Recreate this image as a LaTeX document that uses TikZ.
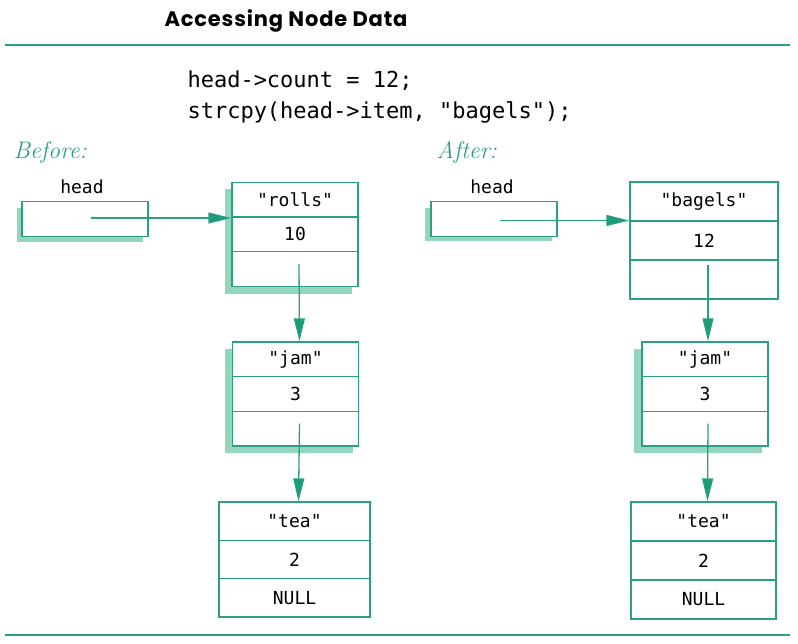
\documentclass[tikz,border=0pt]{standalone}
\usepackage{fontspec}
\setmonofont{DejaVu Sans Mono}
\newfontfamily\titlefont[LetterSpace=4]{Poppins}
\usepackage{tikz}
\usetikzlibrary{positioning,arrows.meta}
\definecolor{listteal}{RGB}{42,160,130}
\definecolor{tipteal}{RGB}{30,155,120}
\definecolor{shadeteal}{RGB}{148,213,190}

\begin{document}
\begin{tikzpicture}[x=1pt,y=-1pt,->,>={Triangle[length=23pt,width=10pt]}]
  \tikzstyle{cell}=[rectangle, draw=listteal, fill=white, line width=1.3pt,
    minimum width=126pt, minimum height=34.7pt, inner sep=0pt,
    font=\fontsize{18}{20}\selectfont\ttfamily]
  \tikzstyle{link}=[draw=listteal, line width=1.3pt, -{Triangle[length=23pt,width=11pt,fill=tipteal]}]
  \tikzstyle{shade}=[fill=shadeteal, draw=none]
  \tikzstyle{codeline}=[font=\fontsize{22}{26}\selectfont\ttfamily, anchor=base west]
  \useasboundingbox (0,0) rectangle (798,643);

  % title and code
  \node[font=\titlefont\bfseries\fontsize{21}{22}\selectfont, anchor=base west] (title) at (161,26) {Accessing Node Data};
  \draw[-, listteal, line width=1.5pt] (5,45) -- (790,45);
  \draw[-, listteal, line width=1.5pt] (5,635) -- (790,635);
  \node[codeline] (code1) at (184,87) {head->count = 12;};
  \node[codeline] (code2) at (184,118) {strcpy(head->item, "bagels");};

  % before
  \node[font=\itshape\fontsize{24}{26}\selectfont, text=listteal, anchor=west] (before) at (10,152) {Before:};
  \node[font=\fontsize{18}{20}\selectfont\ttfamily] (B_label) at (82,187) {head};
  \fill[shade] (17,208) rectangle (143,242);
  \node[cell] (B_head) at (85,219) {};
  \coordinate (B_ptr) at (91,218);

  \fill[shade] (225,189) rectangle (352,294);
  \node[cell] (B_rolls1) at (295,199.5) {"rolls"};
  \node[cell] (B_rolls2) at (295,234.2) {10};
  \node[cell] (B_rolls3) at (295,268.9) {};

  \fill[shade] (225,349) rectangle (353,453);
  \node[cell] (B_jam1) at (295.5,359.3) {"jam"};
  \node[cell] (B_jam2) at (295.5,394) {3};
  \node[cell] (B_jam3) at (295.5,428.7) {};

  \node[cell, minimum width=151pt, minimum height=38.3pt] (B_tea1) at (294.5,521.2) {"tea"};
  \node[cell, minimum width=151pt, minimum height=38.3pt] (B_tea2) at (294.5,559.5) {2};
  \node[cell, minimum width=151pt, minimum height=38.3pt] (B_tea3) at (294.5,597.8) {NULL};

  \draw[link] (B_ptr) -- (B_ptr -| B_rolls1.west);
  \draw[link] ([xshift=4pt,yshift=5pt]B_rolls3.center) -- ([xshift=4pt]B_jam1.north);
  \draw[link] ([xshift=4pt,yshift=5pt]B_jam3.center) -- ([xshift=4pt]B_tea1.north);

  % after
  \node[font=\itshape\fontsize{24}{26}\selectfont, text=listteal, anchor=west] (after) at (433,152) {After:};
  \node[font=\fontsize{18}{20}\selectfont\ttfamily] (A_label) at (492,187) {head};
  \fill[shade] (425,208) rectangle (552,241);
  \node[cell] (A_head) at (494,219) {};
  \coordinate (A_ptr) at (500,220.5);

  \node[cell, minimum width=148pt, minimum height=39pt] (A_bagels1) at (704,201.5) {"bagels"};
  \node[cell, minimum width=148pt, minimum height=39pt] (A_bagels2) at (704,240.5) {12};
  \node[cell, minimum width=148pt, minimum height=39pt] (A_bagels3) at (704,279.5) {};

  \fill[shade] (634,349) rectangle (762,453);
  \node[cell] (A_jam1) at (705,359.3) {"jam"};
  \node[cell] (A_jam2) at (705,394) {3};
  \node[cell] (A_jam3) at (705,428.7) {};

  \node[cell, minimum width=145pt, minimum height=39pt] (A_tea1) at (703.5,521.5) {"tea"};
  \node[cell, minimum width=145pt, minimum height=39pt] (A_tea2) at (703.5,560.5) {2};
  \node[cell, minimum width=145pt, minimum height=39pt] (A_tea3) at (703.5,599.5) {NULL};

  \draw[link] (A_ptr) -- (A_ptr -| A_bagels1.west);
  \draw[link] ([xshift=4pt,yshift=15pt]A_bagels3.center) -- ([xshift=3pt]A_jam1.north);
  \draw[link] ([xshift=3pt,yshift=5pt]A_jam3.center) -- ([xshift=4pt]A_tea1.north);
\end{tikzpicture}
\end{document}
